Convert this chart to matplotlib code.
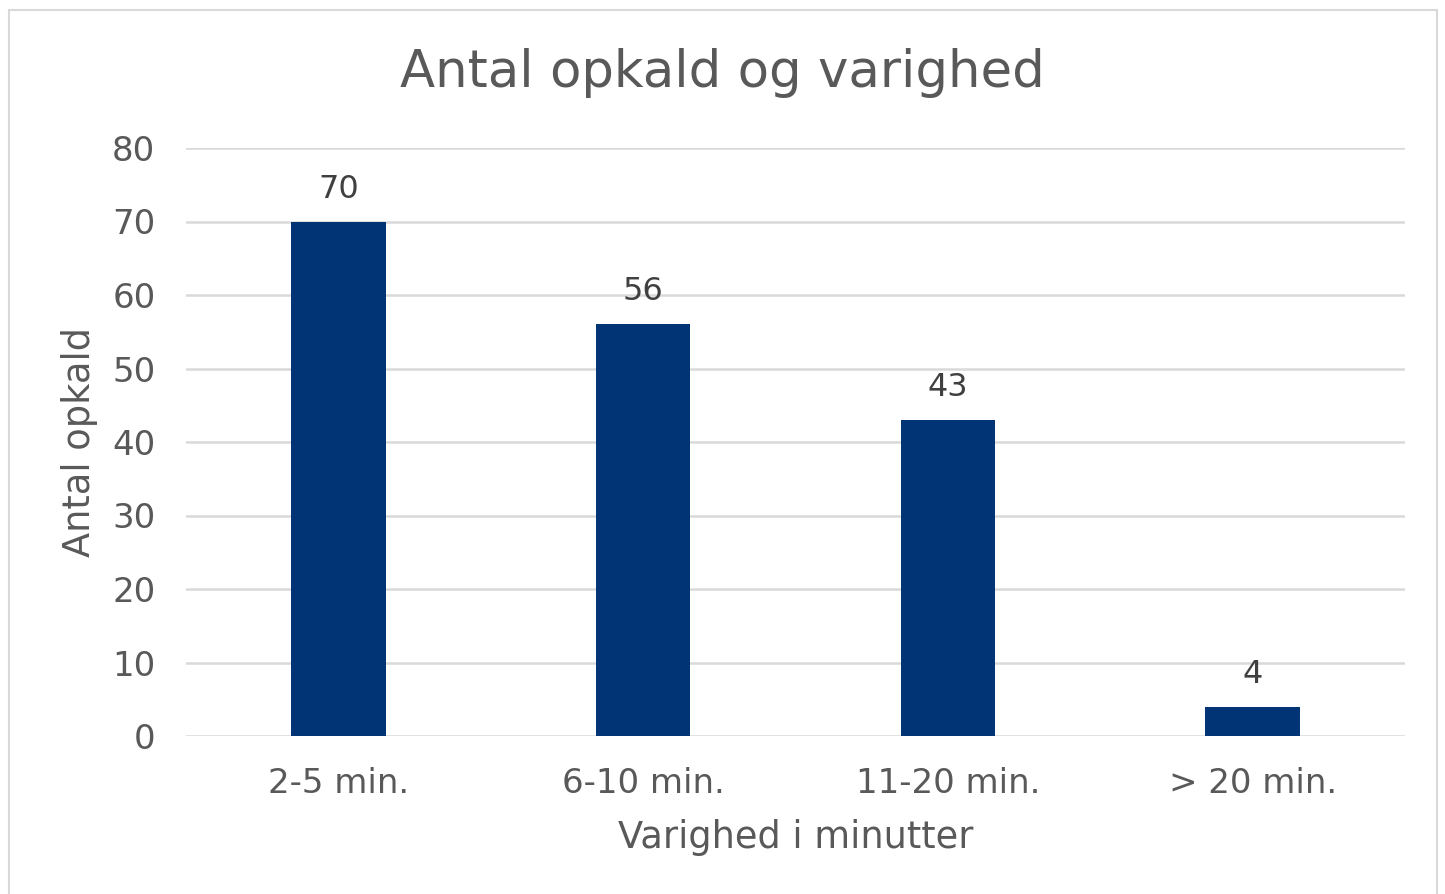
import matplotlib
matplotlib.use("Agg")
import matplotlib.pyplot as plt
from matplotlib.patches import Rectangle

categories = ["2-5 min.", "6-10 min.", "11-20 min.", "> 20 min."]
values = [70, 56, 43, 4]
yticks = [0, 10, 20, 30, 40, 50, 60, 70, 80]

text_color = "#595959"
bar_color = "#003474"
grid_color = "#d9d9d9"

plt.rcParams['font.family'] = ['DejaVu Sans']

fig = plt.figure(figsize=(14.45, 8.94), dpi=100)
ax = fig.add_axes([186/1445, 1-736/894, (1405-186)/1445, (736-148)/894])

x = range(len(categories))
bars = ax.bar(x, values, width=0.31, color=bar_color, zorder=3)
for xi, v in zip(x, values):
    ax.text(xi, v + 2.3, str(v), ha="center", va="bottom", fontsize=23, color="#404040")

ax.set_xlim(-0.5, len(categories) - 0.5)
ax.set_ylim(0, 80)
ax.set_yticks(yticks)
ax.set_xticks(list(x))
ax.set_xticklabels(categories)
ax.tick_params(axis="both", length=0, labelsize=24.5, labelcolor=text_color)
ax.tick_params(axis="y", pad=22)
ax.tick_params(axis="x", pad=22)
ax.grid(axis="y", color=grid_color, linewidth=1.8, zorder=0)
for s in ax.spines.values():
    s.set_visible(False)

ax.set_xlabel("Varighed i minutter", fontsize=26.5, color=text_color, labelpad=14)
ax.set_ylabel("Antal opkald", fontsize=26.5, color=text_color, labelpad=10)
fig.text(0.5, 1-73/894, "Antal opkald og varighed", ha="center", va="center",
         fontsize=37, color=text_color)

fig.patches.append(Rectangle((9/1445, -0.01), (1437-9)/1445, 1-10/894+0.01,
                             transform=fig.transFigure, fill=False,
                             edgecolor="#d9d9d9", linewidth=1.5))

fig.savefig("out.png", dpi=100)
